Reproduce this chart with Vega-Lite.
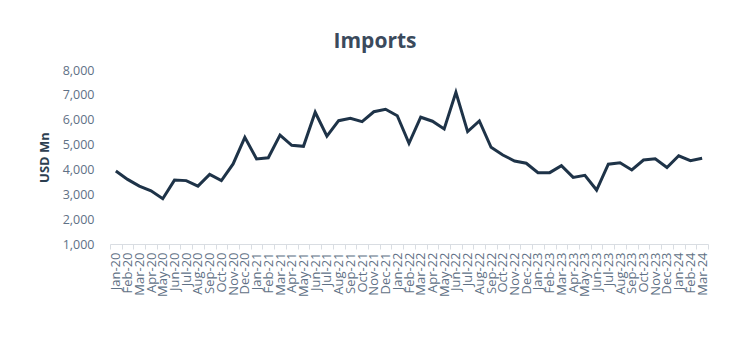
{
  "$schema": "https://vega.github.io/schema/vega-lite/v6.json",
  "autosize": "none",
  "width": 598,
  "height": 174,
  "padding": {"left": 110, "top": 70, "right": 46, "bottom": 116},
  "background": "white",
  "config": {
    "view": {"stroke": null},
    "font": "Open Sans"
  },
  "title": {
    "text": "Imports",
    "fontSize": 21,
    "fontWeight": "bold",
    "color": "#3b4a5c",
    "anchor": "middle",
    "frame": "group",
    "dx": -34,
    "offset": 12,
    "font": "Open Sans"
  },
  "data": {
    "values": [
      {"month": "Jan-20", "value": 3940},
      {"month": "Feb-20", "value": 3600},
      {"month": "Mar-20", "value": 3330},
      {"month": "Apr-20", "value": 3140},
      {"month": "May-20", "value": 2820},
      {"month": "Jun-20", "value": 3570},
      {"month": "Jul-20", "value": 3550},
      {"month": "Aug-20", "value": 3330},
      {"month": "Sep-20", "value": 3800},
      {"month": "Oct-20", "value": 3550},
      {"month": "Nov-20", "value": 4220},
      {"month": "Dec-20", "value": 5290},
      {"month": "Jan-21", "value": 4420},
      {"month": "Feb-21", "value": 4470},
      {"month": "Mar-21", "value": 5380},
      {"month": "Apr-21", "value": 4970},
      {"month": "May-21", "value": 4930},
      {"month": "Jun-21", "value": 6300},
      {"month": "Jul-21", "value": 5340},
      {"month": "Aug-21", "value": 5960},
      {"month": "Sep-21", "value": 6060},
      {"month": "Oct-21", "value": 5920},
      {"month": "Nov-21", "value": 6320},
      {"month": "Dec-21", "value": 6420},
      {"month": "Jan-22", "value": 6160},
      {"month": "Feb-22", "value": 5050},
      {"month": "Mar-22", "value": 6100},
      {"month": "Apr-22", "value": 5940},
      {"month": "May-22", "value": 5630},
      {"month": "Jun-22", "value": 7100},
      {"month": "Jul-22", "value": 5520},
      {"month": "Aug-22", "value": 5950},
      {"month": "Sep-22", "value": 4890},
      {"month": "Oct-22", "value": 4580},
      {"month": "Nov-22", "value": 4340},
      {"month": "Dec-22", "value": 4250},
      {"month": "Jan-23", "value": 3870},
      {"month": "Feb-23", "value": 3870},
      {"month": "Mar-23", "value": 4150},
      {"month": "Apr-23", "value": 3680},
      {"month": "May-23", "value": 3760},
      {"month": "Jun-23", "value": 3170},
      {"month": "Jul-23", "value": 4210},
      {"month": "Aug-23", "value": 4270},
      {"month": "Sep-23", "value": 3980},
      {"month": "Oct-23", "value": 4380},
      {"month": "Nov-23", "value": 4430},
      {"month": "Dec-23", "value": 4080},
      {"month": "Jan-24", "value": 4550},
      {"month": "Feb-24", "value": 4350},
      {"month": "Mar-24", "value": 4450}
    ]
  },
  "mark": {"type": "line", "color": "#1e3348", "strokeWidth": 3, "strokeJoin": "miter"},
  "encoding": {
    "x": {
      "field": "month",
      "type": "ordinal",
      "sort": null,
      "scale": {"paddingInner": 0, "paddingOuter": 0},
      "axis": {
        "title": null,
        "labelAngle": -90,
        "labelFontSize": 13,
        "labelColor": "#5f7186",
        "labelFont": "Open Sans",
        "labelPadding": 3,
        "domainColor": "#d9dde2",
        "tickColor": "#d9dde2",
        "tickBand": "extent",
        "tickSize": 5,
        "grid": false
      }
    },
    "y": {
      "field": "value",
      "type": "quantitative",
      "scale": {"domain": [1000, 8000], "nice": false, "zero": false},
      "axis": {
        "title": "USD Mn",
        "titleFontSize": 13,
        "titleFontWeight": "bold",
        "titleColor": "#2c3e50",
        "titleFont": "Open Sans",
        "titlePadding": 11,
        "values": [1000, 2000, 3000, 4000, 5000, 6000, 7000, 8000],
        "format": ",.0f",
        "labelFontSize": 12.5,
        "labelColor": "#5f7186",
        "labelFont": "Open Sans",
        "labelPadding": 16,
        "domain": false,
        "ticks": false,
        "grid": false
      }
    }
  }
}
